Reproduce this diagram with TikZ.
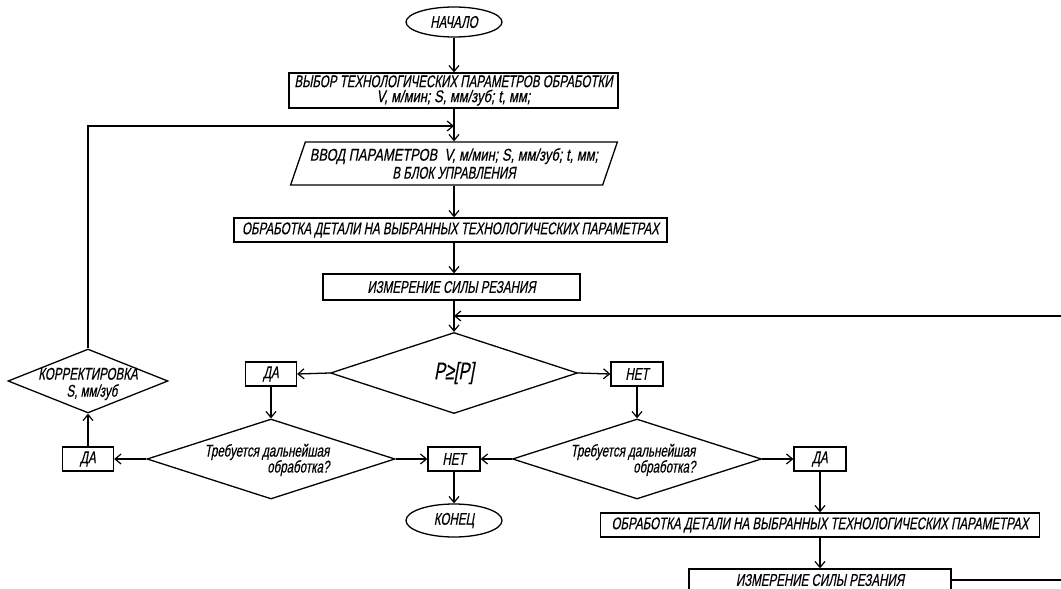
\documentclass[tikz,border=0pt]{standalone}
\usepackage{fontspec}
\setmainfont{Liberation Sans}[FakeStretch=0.68,FakeSlant=0.18,FakeBold=0.4]
\newfontfamily\wfont{Liberation Sans}[FakeStretch=0.76,FakeSlant=0.18,FakeBold=0.4]
\usetikzlibrary{shapes.geometric,arrows.meta}
\begin{document}
\begin{tikzpicture}[x=1pt,y=-1pt,
  lw/.style={line width=1.3pt},
  txt/.style={font=\fontsize{17}{15}\selectfont, inner sep=0pt, align=center},
  box/.style={txt, draw, lw, rectangle},
  term/.style={txt, draw, lw, ellipse},
  dec/.style={draw, lw, diamond, inner sep=0pt},
  io/.style={txt, draw, lw, trapezium, trapezium stretches=true,
             trapezium left angle=65, trapezium right angle=115},
  arr/.style={lw, -{Straight Barb[length=6pt,width=10pt,line width=1.2pt]}}]
\useasboundingbox (0,0) rectangle (1061,589);
\fill[white] (0,0) rectangle (1061,589);
\clip (0,0) rectangle (1061,589);
\coordinate (axis) at (454,0);
% main column
\node[term, minimum width=96, minimum height=30] (start) at (454,22) {НАЧАЛО};
\node[box, minimum width=329, minimum height=35] (b1) at (453.5,90.5)
  {ВЫБОР ТЕХНОЛОГИЧЕСКИХ ПАРАМЕТРОВ ОБРАБОТКИ\\{\wfont V, м/мин; S, мм/зуб; t, мм;}};
\node[io, minimum width=328, minimum height=43,
  font=\fontsize{17}{18}\selectfont] (par) at (454,163.5)
  {{\wfont ВВОД ПАРАМЕТРОВ\ \ V, м/мин; S, мм/зуб; t, мм;}\\В БЛОК УПРАВЛЕНИЯ};
\node[box, minimum width=433, minimum height=24] (b2) at (450.5,230)
  {ОБРАБОТКА ДЕТАЛИ НА ВЫБРАННЫХ ТЕХНОЛОГИЧЕСКИХ ПАРАМЕТРАХ};
\node[box, minimum width=257, minimum height=26] (b3) at (451.5,287)
  {ИЗМЕРЕНИЕ СИЛЫ РЕЗАНИЯ};
\node[dec, minimum width=247, minimum height=81,
  label={[txt, font=\fontsize{24}{24}\selectfont]center:P≥[P]}] (d1) at (454,373) {};
% second level
\node[box, minimum width=51, minimum height=24] (da1) at (271,374) {ДА};
\node[box, minimum width=52, minimum height=24] (net1) at (637,374) {НЕТ};
\node[dec, minimum width=248, minimum height=80,
  label={[txt, align=right, xshift=-4pt, yshift=-1pt, font=\fontsize{17}{16}\selectfont]center:Требуется дальнейшая\\обработка?}] (d2) at (271,459) {};
\node[dec, minimum width=249, minimum height=80,
  label={[txt, align=right, xshift=-4pt, yshift=-1pt, font=\fontsize{17}{16}\selectfont]center:Требуется дальнейшая\\обработка?}] (d3) at (637,459) {};
\node[box, minimum width=51, minimum height=24] (da2) at (88,459) {ДА};
\node[box, minimum width=52, minimum height=24] (net2) at (454,459) {НЕТ};
\node[box, minimum width=52, minimum height=24] (da3) at (820,459) {ДА};
\node[dec, minimum width=160, minimum height=64,
  label={[txt, yshift=-3pt, font=\fontsize{17}{17}\selectfont]center:КОРРЕКТИРОВКА\\\hspace*{8pt}S, мм/зуб}] (korr) at (88,381) {};
\node[term, minimum width=96, minimum height=33] (end) at (454,520.5) {КОНЕЦ};
\node[box, minimum width=439, minimum height=24] (b4) at (820,525)
  {ОБРАБОТКА ДЕТАЛИ НА ВЫБРАННЫХ ТЕХНОЛОГИЧЕСКИХ ПАРАМЕТРАХ};
\node[box, minimum width=262, minimum height=22] (b5) at (820,580)
  {ИЗМЕРЕНИЕ СИЛЫ РЕЗАНИЯ};
% junctions
\coordinate (j1) at (454,126);
\coordinate (j2) at (454,316);
% connectors
\draw[arr] (start.south) -- (b1.north -| start);
\draw[arr] (b1.south -| axis) -- (par.north -| axis);
\draw[arr] (par.south -| axis) -- (b2.north -| axis);
\draw[arr] (b2.south -| axis) -- (b3.north -| axis);
\draw[arr] (b3.south -| axis) -- (d1.north);
\draw[arr] (d1.west) -- (da1.east);
\draw[arr] (d1.east) -- (net1.west);
\draw[arr] (da1.south) -- (d2.north);
\draw[arr] (net1.south) -- (d3.north);
\draw[arr] (d2.west) -- (da2.east);
\draw[arr] (d2.east) -- (net2.west);
\draw[arr] (d3.west) -- (net2.east);
\draw[arr] (d3.east) -- (da3.west);
\draw[arr] (net2.south) -- (end.north);
\draw[arr] (da2.north) -- (korr.south);
\draw[arr] (korr.north) |- (j1);
\draw[arr] (da3.south) -- (b4.north -| da3);
\draw[arr] (b4.south -| da3) -- (b5.north -| da3);
\draw[arr] (b5.east) -- ++(140,0) |- (j2);
\end{tikzpicture}
\end{document}
